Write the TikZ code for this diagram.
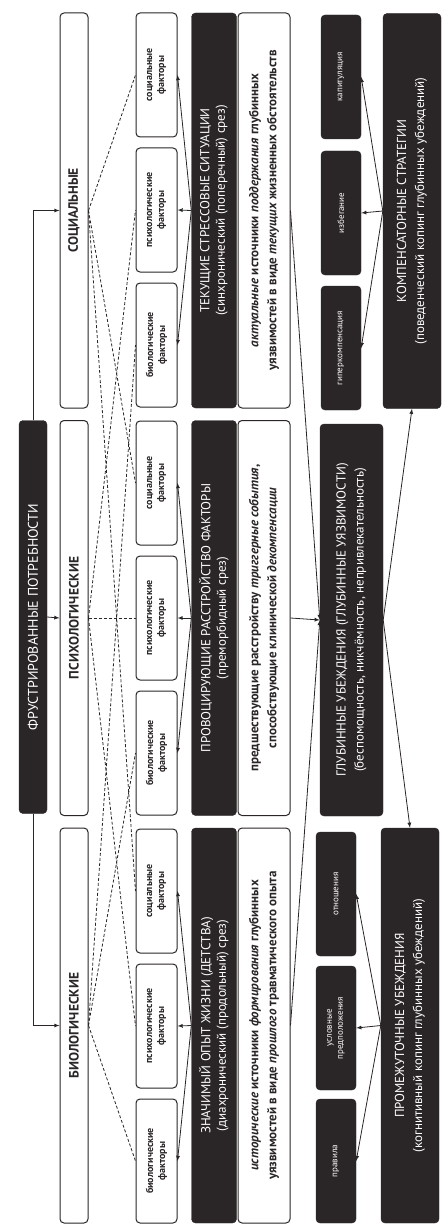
\documentclass[tikz,border=0pt]{standalone}
\usepackage{fontspec}
\setmainfont{PT Sans}
\usepackage{tikz}
\definecolor{boxdark}{RGB}{42,37,38}
\tikzset{
    every node/.style={rotate=90, align=center, inner sep=1pt},
    darkbox/.style={draw=boxdark, fill=boxdark, text=white, rounded corners=4pt},
    lightbox/.style={draw=boxdark, fill=white, text=boxdark, rounded corners=4pt, line width=1pt},
    levelbox/.style={lightbox, minimum width=395pt, minimum height=28pt, font=\bfseries\fontsize{13.5}{16}\selectfont},
    factorbox/.style={lightbox, minimum width=124pt, minimum height=41pt, font=\bfseries\fontsize{10}{12}\selectfont},
    sourcebox/.style={darkbox, minimum width=395pt, minimum height=45pt, font=\fontsize{13}{15.5}\selectfont},
    notebox/.style={lightbox, minimum width=395pt, minimum height=52pt, font=\bfseries\fontsize{13}{18}\selectfont},
    copebox/.style={darkbox, minimum width=124pt, minimum height=40pt, font=\fontsize{9}{11}\selectfont},
    mainbox/.style={darkbox, minimum width=395pt, minimum height=58pt, font=\fontsize{13}{18}\selectfont},
    arr/.style={->, draw=boxdark, line width=0.8pt},
    dashlink/.style={draw=boxdark, line width=0.8pt, dash pattern=on 3pt off 2pt}
}

\begin{document}
\begin{tikzpicture}[x=1pt,y=-1pt,>=latex]
    \useasboundingbox (0,0) rectangle (444,1225);

    % needs and their levels
    \node[darkbox, minimum width=393pt, minimum height=28pt, font=\fontsize{14}{16}\selectfont] (frust) at (33,617) {ФРУСТРИРОВАННЫЕ ПОТРЕБНОСТИ};
    \node[levelbox] (soc) at (74,210.5) {СОЦИАЛЬНЫЕ};
    \node[levelbox] (psy) at (74,618) {ПСИХОЛОГИЧЕСКИЕ};
    \node[levelbox] (bio) at (74,1025.5) {БИОЛОГИЧЕСКИЕ};

    % factors, one column for each slice
    \node[factorbox] (tsoc) at (156.5,75) {социальные\\факторы};
    \node[factorbox] (tpsy) at (156.5,210) {психологические\\факторы};
    \node[factorbox] (tbio) at (156.5,345) {биологические\\факторы};
    \node[factorbox] (psoc) at (156.5,483) {социальные\\факторы};
    \node[factorbox] (ppsy) at (156.5,618) {психологические\\факторы};
    \node[factorbox] (pbio) at (156.5,753) {биологические\\факторы};
    \node[factorbox] (zsoc) at (156.5,891) {социальные\\факторы};
    \node[factorbox] (zpsy) at (156.5,1026) {психологические\\факторы};
    \node[factorbox] (zbio) at (156.5,1161) {биологические\\факторы};

    % slices
    \node[sourcebox] (tek) at (214,210.5) {ТЕКУЩИЕ СТРЕССОВЫЕ СИТУАЦИИ\\(синхронический (поперечный) срез)};
    \node[sourcebox] (prov) at (214,618) {ПРОВОЦИРУЮЩИЕ РАССТРОЙСТВО ФАКТОРЫ\\(преморбидный срез)};
    \node[sourcebox] (znach) at (214,1025.5) {ЗНАЧИМЫЙ ОПЫТ ЖИЗНИ (ДЕТСТВА)\\(диахронический (продольный) срез)};
    \node[notebox] (tekw) at (264,210.5) {\textit{актуальные} источники \textit{поддержания} глубинных\\уязвимостей в виде \textit{текущих} жизненных обстоятельств};
    \node[notebox] (provw) at (264,618) {предшествующие расстройству \textit{триггерные события},\\способствующие клинической \textit{декомпенсации}};
    \node[notebox] (znachw) at (264,1025.5) {\textit{исторические} источники \textit{формирования} глубинных\\уязвимостей в виде \textit{прошлого} травматического опыта};

    % beliefs and coping
    \node[darkbox, minimum width=392pt, minimum height=63pt, font=\fontsize{13}{18}\selectfont] (glub) at (351.5,620) {ГЛУБИННЫЕ УБЕЖДЕНИЯ (ГЛУБИННЫЕ УЯЗВИМОСТИ)\\(беспомощность, никчёмность, непривлекательность)};
    \node[copebox] (kap) at (341,77) {капитуляция};
    \node[copebox] (izb) at (341,213) {избегание};
    \node[copebox] (giper) at (341,348) {гиперкомпенсация};
    \node[copebox] (otn) at (336,894) {отношения};
    \node[copebox] (usl) at (336,1028) {условные\\предположения};
    \node[copebox] (prav) at (336,1161) {правила};
    \node[mainbox] (komp) at (412,211) {КОМПЕНСАТОРНЫЕ СТРАТЕГИИ\\(поведенческий копинг глубинных убеждений)};
    \node[mainbox] (prom) at (410,1025.5) {ПРОМЕЖУТОЧНЫЕ УБЕЖДЕНИЯ\\(когнитивный копинг глубинных убеждений)};

    % arrows from the needs
    \draw[arr] (frust.east) |- (soc.north);
    \draw[arr] (frust.south) -- (psy.north);
    \draw[arr] (frust.west) |- (bio.north);

    % dashed links between levels and factors
    \draw[dashlink] (soc.south) -- (tsoc.north);
    \draw[dashlink] (soc.south) -- (psoc.north);
    \draw[dashlink] (soc.south) -- (zsoc.north);
    \draw[dashlink] (psy.south) -- (tpsy.north);
    \draw[dashlink] (psy.south) -- (ppsy.north);
    \draw[dashlink] (psy.south) -- (zpsy.north);
    \draw[dashlink] (bio.south) -- (tbio.north);
    \draw[dashlink] (bio.south) -- (pbio.north);
    \draw[dashlink] (bio.south) -- (zbio.north);

    % slices to factors
    \draw[arr] (tek.north) -- (tsoc.south);
    \draw[arr] (tek.north) -- (tpsy.south);
    \draw[arr] (tek.north) -- (tbio.south);
    \draw[arr] (prov.north) -- (psoc.south);
    \draw[arr] (prov.north) -- (ppsy.south);
    \draw[arr] (prov.north) -- (pbio.south);
    \draw[arr] (znach.north) -- (zsoc.south);
    \draw[arr] (znach.north) -- (zpsy.south);
    \draw[arr] (znach.north) -- (zbio.south);

    % into and out of the core beliefs
    \draw[arr] (tekw.south) -- (glub.north);
    \draw[arr] (provw.south) -- (glub.north);
    \draw[arr] (znachw.south) -- (glub.north);
    \draw[arr] (glub.south) -- (komp.west);
    \draw[arr] (glub.south) -- (prom.east);

    % coping
    \draw[arr] (komp.north) -- (kap.south);
    \draw[arr] (komp.north) -- (izb.south);
    \draw[arr] (komp.north) -- (giper.south);
    \draw[arr] (prom.north) -- (otn.south);
    \draw[arr] (prom.north) -- (usl.south);
    \draw[arr] (prom.north) -- (prav.south);
\end{tikzpicture}
\end{document}
